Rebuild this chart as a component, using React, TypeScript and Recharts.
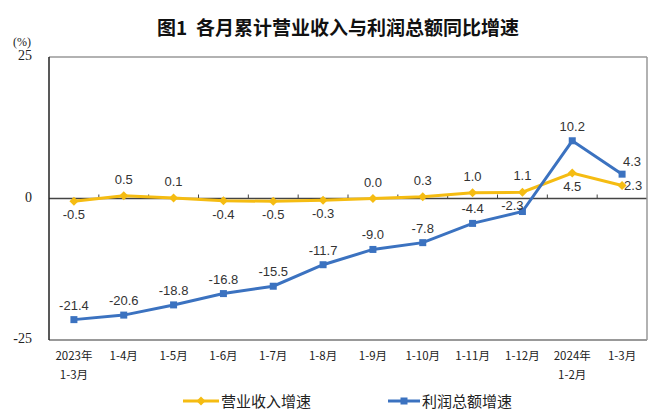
import React from 'react';
import { LineChart, Line, XAxis, YAxis, ReferenceLine } from 'recharts';

const categories = ['2023年\n1-3月', '1-4月', '1-5月', '1-6月', '1-7月', '1-8月', '1-9月', '1-10月', '1-11月', '1-12月', '2024年\n1-2月', '1-3月'];
const revenueGrowth = [-0.5, 0.5, 0.1, -0.4, -0.5, -0.3, 0.0, 0.3, 1.0, 1.1, 4.5, 2.3];
const profitGrowth = [-21.4, -20.6, -18.8, -16.8, -15.5, -11.7, -9.0, -7.8, -4.4, -2.3, 10.2, 4.3];
const yTicks = [-25, 0, 25];
const seriesNames = ['营业收入增速', '利润总额增速'];

const YELLOW = '#F5BC12';
const BLUE = '#3B72C0';

const data = categories.map((c, i) => ({ cat: c, revenue: revenueGrowth[i], profit: profitGrowth[i] }));

const LABEL_FONT = '"Liberation Sans", Arial, sans-serif';

const renderRevenueLabel = (p: any) => {
  const { x, y, value, index } = p;
  let dx = 0;
  let dy = -12;
  let anchor = 'middle';
  if (index === categories.length - 1) {
    dx = 2; dy = 5; anchor = 'start';
  } else if (value < 0 || index === 10) {
    dy = 18;
  }
  return (
    <text key={'rl' + index} x={x + dx} y={y + dy} textAnchor={anchor} fontSize={13} fill="#333" fontFamily={LABEL_FONT}>
      {value.toFixed(1)}
    </text>
  );
};

const renderProfitLabel = (p: any) => {
  const { x, y, value, index } = p;
  let dx = 0;
  let dy = -10;
  if (index === 9) { dx = -10; dy = -2; }
  if (index === categories.length - 1) { dx = 10; dy = -8; }
  return (
    <text key={'pl' + index} x={x + dx} y={y + dy} textAnchor="middle" fontSize={13} fill="#333" fontFamily={LABEL_FONT}>
      {value.toFixed(1)}
    </text>
  );
};

const Diamond = (p: any) => {
  const { cx, cy, index } = p;
  const r = 4.5;
  return <path key={'d' + index} d={`M${cx},${cy - r}L${cx + r},${cy}L${cx},${cy + r}L${cx - r},${cy}Z`} fill={YELLOW} />;
};

const Square = (p: any) => {
  const { cx, cy, index } = p;
  const s = 3.5;
  return <rect key={'s' + index} x={cx - s} y={cy - s} width={2 * s} height={2 * s} fill={BLUE} />;
};

// zero line with small tick marks at the category band boundaries
const ZeroLine = (p: any) => {
  const { x1, y1, x2 } = p;
  const n = categories.length;
  const step = (x2 - x1) / n;
  const marks = [];
  for (let k = 1; k < n; k++) {
    const xx = x1 + k * step;
    marks.push(<line key={k} x1={xx} y1={y1} x2={xx} y2={y1 - 4} stroke="#444" strokeWidth={1} />);
  }
  return (
    <g>
      <line x1={x1} y1={y1} x2={x2} y2={y1} stroke="#444" strokeWidth={1.5} />
      {marks}
    </g>
  );
};

const XTick = (p: any) => {
  const { x, y, payload } = p;
  const lines = String(payload.value).split('\n');
  return (
    <g>
      {lines.map((l: string, i: number) => (
        <text key={i} x={x} y={y + 12 + i * 19} textAnchor="middle" fontSize={11.5} fill="#222" fontFamily='"Noto Sans CJK SC", sans-serif'>
          {l}
        </text>
      ))}
    </g>
  );
};

const YTick = (p: any) => {
  const { y, payload } = p;
  return (
    <text x={32} y={y + 3} textAnchor="end" fontSize={14} fill="#222" fontFamily='"Liberation Serif", "Times New Roman", serif'>
      {payload.value}
    </text>
  );
};

export default function App() {
  return (
    <div style={{ position: 'absolute', left: 0, top: 0, width: 656, height: 418, background: '#fff', overflow: 'hidden' }}>
      <div style={{ position: 'absolute', left: 0, width: 676, top: 14, textAlign: 'center', fontFamily: '"Noto Sans CJK SC", sans-serif', fontWeight: 700, fontSize: 19, lineHeight: '26px', color: '#111', whiteSpace: 'pre' }}>
        {'图1  各月累计营业收入与利润总额同比增速'}
      </div>
      <div style={{ position: 'absolute', left: 13, top: 35, fontSize: 12, fontFamily: '"Liberation Serif", serif', color: '#222' }}>(%)</div>
      <div style={{ position: 'absolute', left: 0, top: 0 }}>
        <LineChart width={656} height={418} data={data} margin={{ top: 57, right: 0, bottom: 0, left: 0 }}>
          <XAxis dataKey="cat" scale="band" height={78} axisLine={{ stroke: '#777', strokeWidth: 1.5 }} tickLine={false} tick={<XTick />} interval={0} />
          <YAxis yAxisId="left" width={49} domain={[-25, 25]} ticks={yTicks} axisLine={{ stroke: '#222', strokeWidth: 1.5 }} tickLine={false} tick={<YTick />} allowDataOverflow />
          <YAxis yAxisId="right" orientation="right" width={9} domain={[-25, 25]} ticks={yTicks} axisLine={{ stroke: '#999', strokeWidth: 1.5 }} tickLine={false} tick={false} />
          <ReferenceLine yAxisId="left" y={25} stroke="#999" strokeWidth={1.5} />
          <ReferenceLine yAxisId="left" y={0} stroke="#444" shape={ZeroLine} />
          <Line yAxisId="left" type="linear" dataKey="revenue" name={seriesNames[0]} stroke={YELLOW} strokeWidth={3} dot={Diamond} activeDot={false} label={renderRevenueLabel} isAnimationActive={false} />
          <Line yAxisId="left" type="linear" dataKey="profit" name={seriesNames[1]} stroke={BLUE} strokeWidth={3} dot={Square} activeDot={false} label={renderProfitLabel} isAnimationActive={false} />
        </LineChart>
      </div>
      <div style={{ position: 'absolute', top: 391, left: 182, display: 'flex', alignItems: 'center', fontFamily: '"Noto Sans CJK SC", sans-serif', fontSize: 15, color: '#222', lineHeight: '20px' }}>
        <svg width={38} height={12} style={{ marginRight: 1 }}>
          <line x1={1} y1={6} x2={37} y2={6} stroke={YELLOW} strokeWidth={3} />
          <path d="M19,1.5L23.5,6L19,10.5L14.5,6Z" fill={YELLOW} />
        </svg>
        <span>{seriesNames[0]}</span>
        <svg width={34} height={12} style={{ marginLeft: 76, marginRight: 1 }}>
          <line x1={1} y1={6} x2={33} y2={6} stroke={BLUE} strokeWidth={3} />
          <rect x={13.5} y={2.5} width={7} height={7} fill={BLUE} />
        </svg>
        <span>{seriesNames[1]}</span>
      </div>
    </div>
  );
}
